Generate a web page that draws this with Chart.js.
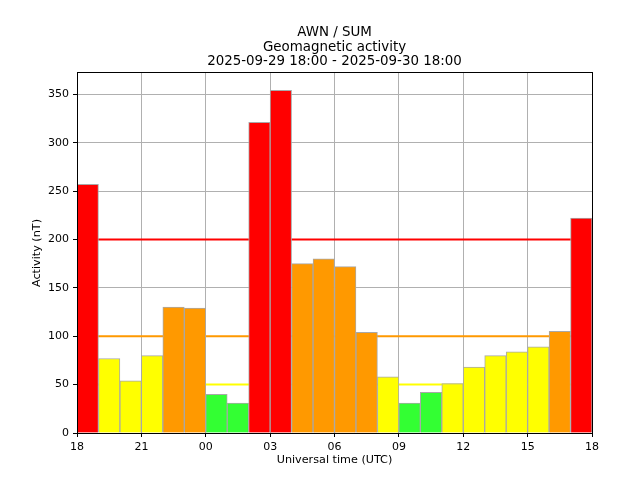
<!DOCTYPE html>
<html>
<head>
<meta charset="utf-8">
<script src="https://cdn.jsdelivr.net/npm/chart.js@4/dist/chart.umd.min.js"></script>
<style>
  html, body { margin: 0; padding: 0; background: #fff; }
  #wrap { width: 640px; height: 480px; }
</style>
</head>
<body>
<div id="wrap"><canvas id="myChart" width="640" height="480"></canvas></div>
<script>
// hourly activity, 2025-09-29 18:00 -> 2025-09-30 18:00
const hourStarts = [18, 19, 20, 21, 22, 23, 0, 1, 2, 3, 4, 5, 6, 7, 8, 9, 10, 11, 12, 13, 14, 15, 16, 17];
const activity = [257, 77, 54, 80, 130, 129, 40, 31, 321, 354, 175, 180, 172, 104, 58, 31, 42, 51, 68, 80, 84, 89, 105, 222];
const thresholds = [200, 100, 50];
const thresholdNames = ["red", "orange", "yellow"];
const titleLines = ["AWN / SUM", "Geomagnetic activity", "2025-09-29 18:00 - 2025-09-30 18:00"];

const levelColors = {
    red: "#ff0000",
    orange: "#ff9900",
    yellow: "#ffff00",
    green: "#33ff33"
};

function colorFor(value) {
    if (value >= 200) return levelColors.red;
    if (value >= 100) return levelColors.orange;
    if (value >= 50) return levelColors.yellow;
    return levelColors.green;
}

const FONT = "'DejaVu Sans', sans-serif";

// bar i covers hour i .. i+1 on a linear 0..24 axis
const barPoints = activity.map((v, i) => ({ x: i + 0.5, y: v }));

const lineSets = thresholds.map((t, i) => ({
    type: "line",
    data: [{ x: 0, y: t }, { x: 24, y: t }],
    borderColor: levelColors[thresholdNames[i]],
    borderWidth: 2,
    pointRadius: 0,
    order: 2
}));

// title + frame drawn around the plot area
const framePlugin = {
    id: "frame",
    afterDraw(chart) {
        const ctx = chart.ctx;
        const a = chart.chartArea;
        ctx.save();
        ctx.strokeStyle = "#000";
        ctx.lineWidth = 1;
        ctx.strokeRect(Math.round(a.left) + 0.5, Math.round(a.top) - 0.5,
            Math.round(a.right - a.left), Math.round(a.bottom - a.top) + 1);
        ctx.fillStyle = "#000";
        ctx.font = "13.4px " + FONT;
        ctx.textAlign = "center";
        ctx.textBaseline = "middle";
        const cx = (a.left + a.right) / 2;
        titleLines.forEach((line, i) => ctx.fillText(line, cx, 33 + i * 14.5));
        ctx.restore();
    }
};

new Chart(document.getElementById("myChart"), {
    type: "bar",
    data: {
        datasets: [{
            data: barPoints,
            backgroundColor: activity.map(colorFor),
            borderColor: "#a8a8a8",
            borderWidth: 1,
            barPercentage: 1,
            categoryPercentage: 1,
            order: 1
        }, ...lineSets]
    },
    plugins: [framePlugin],
    options: {
        responsive: false,
        animation: false,
        events: [],
        layout: { padding: { left: 0, top: 73, right: 48, bottom: 0 } },
        plugins: {
            legend: { display: false },
            tooltip: { enabled: false },
            title: { display: false }
        },
        scales: {
            x: {
                type: "linear",
                min: 0,
                max: 24,
                offset: false,
                grid: { color: "#b0b0b0", lineWidth: 1, offset: false, tickLength: 4, tickColor: "#000" },
                border: { color: "#000", width: 1 },
                ticks: {
                    stepSize: 3,
                    maxRotation: 0,
                    padding: 4,
                    color: "#000",
                    font: { family: FONT, size: 11 },
                    callback: v => String((18 + v) % 24).padStart(2, "0")
                },
                title: {
                    display: true,
                    text: "Universal time (UTC)",
                    color: "#000",
                    font: { family: FONT, size: 11.2 },
                    padding: { top: 0, bottom: 13 }
                },
                afterFit(scale) { scale.height = 47; }
            },
            y: {
                min: 0,
                max: 372,
                grid: { color: "#b0b0b0", lineWidth: 1, tickLength: 4, tickColor: "#000" },
                border: { color: "#000", width: 1 },
                ticks: {
                    stepSize: 50,
                    includeBounds: false,
                    padding: 4,
                    color: "#000",
                    font: { family: FONT, size: 11 }
                },
                title: {
                    display: true,
                    text: "Activity (nT)",
                    color: "#000",
                    font: { family: FONT, size: 11.2 },
                    padding: { top: 30, bottom: 0 }
                },
                afterFit(scale) { scale.width = 77; }
            }
        }
    }
});
</script>
</body>
</html>
